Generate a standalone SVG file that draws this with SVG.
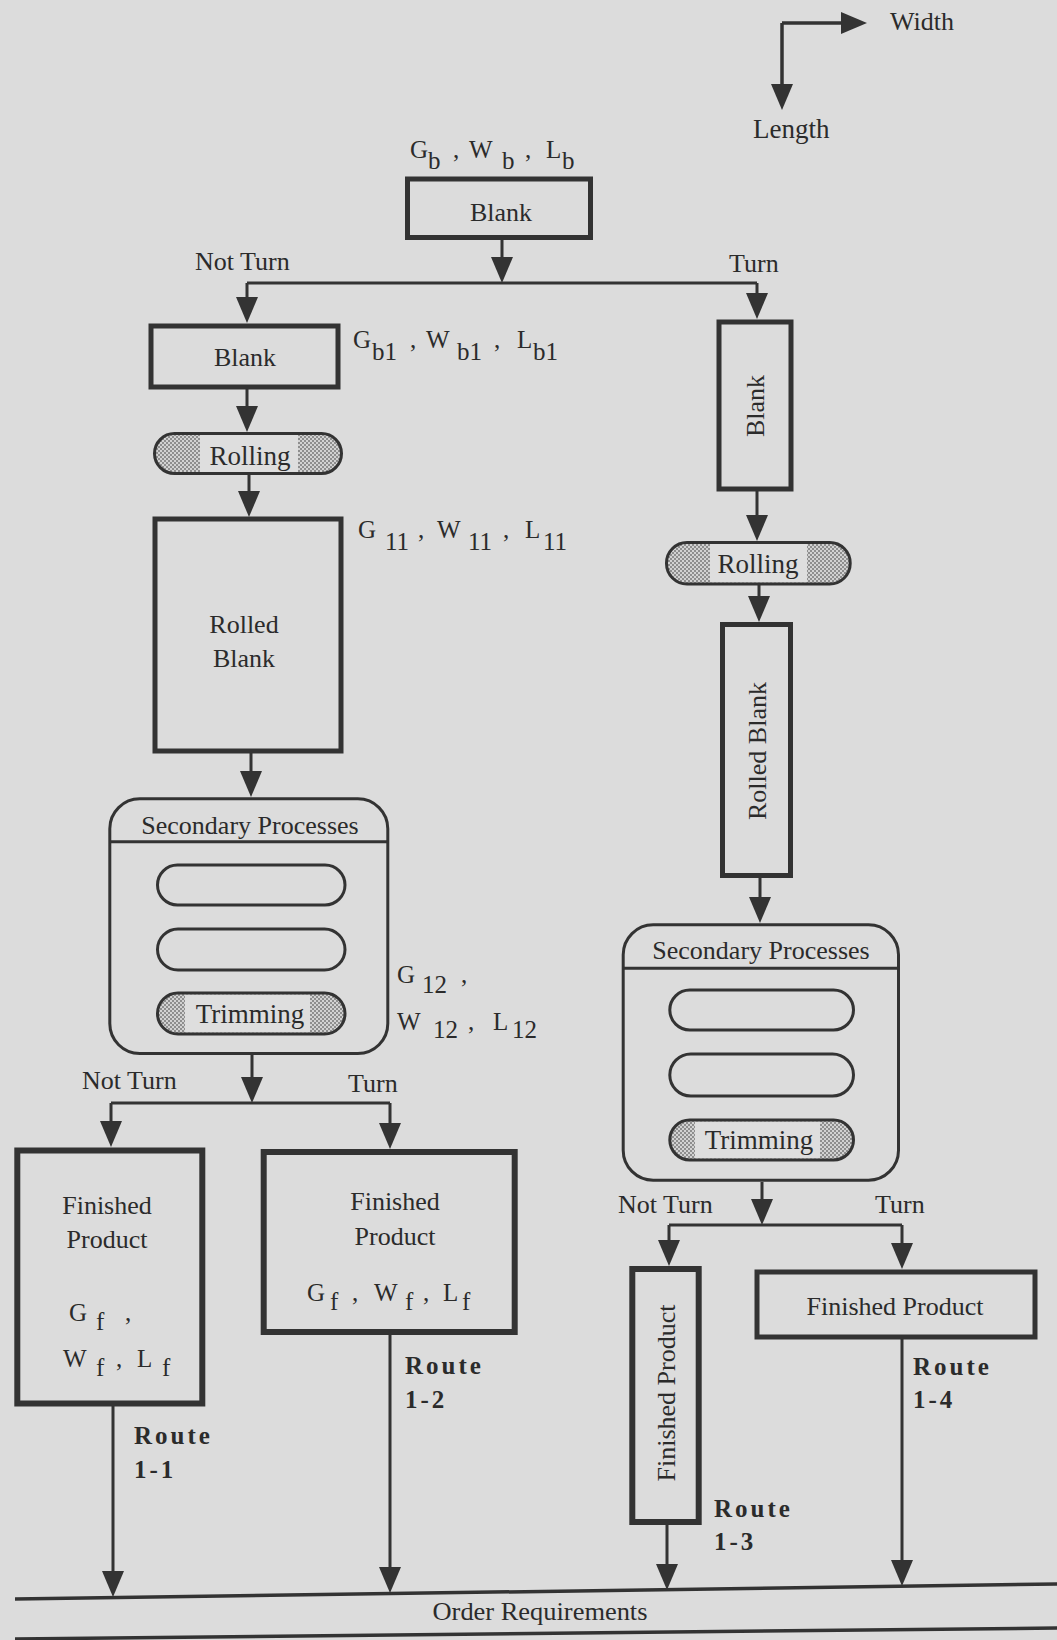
<svg xmlns="http://www.w3.org/2000/svg" width="1057" height="1640" viewBox="0 0 1057 1640">
<style>
.t{font-family:"Liberation Serif","Times New Roman",serif;font-size:26px;fill:#2b2b2b}
.m{text-anchor:middle}
.s{font-size:25px}
.r{font-family:"Liberation Serif","Times New Roman",serif;font-size:25px;font-weight:bold;letter-spacing:3px;fill:#2b2b2b}
.box{fill:none;stroke:#333;stroke-width:5}
.fp{fill:none;stroke:#333;stroke-width:6}
.sp{fill:none;stroke:#333;stroke-width:3}
.pill{fill:none;stroke:#333;stroke-width:3}
.pf{fill:url(#stip);stroke:none}
.lt{fill:#dedede;stroke:none}
.c{fill:none;stroke:#333;stroke-width:3}
.ca{fill:none;stroke:#333;stroke-width:3;marker-end:url(#ah)}
</style>
<defs>
<pattern id="stip" width="4" height="4" patternUnits="userSpaceOnUse">
<rect width="4" height="4" fill="#d2d2d2"/>
<rect width="2" height="2" fill="#8e8e8e"/>
<rect x="2" y="2" width="2" height="2" fill="#8e8e8e"/>
</pattern>
<marker id="ah" markerUnits="userSpaceOnUse" viewBox="0 0 26 22" markerWidth="26" markerHeight="22" refX="16" refY="11" orient="auto">
<path d="M0,0 L26,11 L0,22 z" fill="#333"/>
</marker>
</defs>
<rect width="1057" height="1640" fill="#dcdcdc"/>

<g id="axes">
<path class="ca" style="stroke-width:3.5" d="M782,23 H857"/>
<path class="ca" style="stroke-width:3.5" d="M782,23 V100"/>
<text class="t" x="890" y="30">Width</text>
<text class="t" x="753" y="138" style="font-size:27px">Length</text>
</g>

<g id="connectors">
<path class="ca" d="M502,240 V273"/>
<path class="c" d="M247,283 H757"/>
<path class="ca" d="M247,283 V313"/>
<path class="ca" d="M757,283 V309"/>
<path class="ca" d="M247,389 V422"/>
<path class="ca" d="M249,475 V507"/>
<path class="ca" d="M251,753 V787"/>
<path class="ca" d="M252,1055 V1093"/>
<path class="c" d="M111,1103 H390"/>
<path class="ca" d="M111,1103 V1137"/>
<path class="ca" d="M390,1103 V1139"/>
<path class="ca" d="M113,1406 V1587"/>
<path class="ca" d="M390,1335 V1583"/>
<path class="ca" d="M757,491 V531"/>
<path class="ca" d="M759,585 V612"/>
<path class="ca" d="M760,878 V913"/>
<path class="ca" d="M762,1182 V1215"/>
<path class="c" d="M669,1225 H902"/>
<path class="ca" d="M669,1225 V1256"/>
<path class="ca" d="M902,1225 V1259"/>
<path class="ca" d="M667,1525 V1580"/>
<path class="ca" d="M902,1339 V1576"/>
<text class="t" x="195" y="270">Not Turn</text>
<text class="t" x="729" y="272">Turn</text>
<text class="t" x="82" y="1089">Not Turn</text>
<text class="t" x="348" y="1092">Turn</text>
<text class="t" x="618" y="1213">Not Turn</text>
<text class="t" x="875" y="1213">Turn</text>
</g>

<g id="blank-top">
<rect class="box" x="407.5" y="179" width="183" height="58.5"/>
<text class="t m" x="501" y="221">Blank</text>
<text class="t s"><tspan x="410" y="158">G</tspan><tspan x="428" y="169">b</tspan><tspan x="453" y="158">,</tspan><tspan x="469" y="158">W</tspan><tspan x="502" y="169">b</tspan><tspan x="525" y="158">,</tspan><tspan x="546" y="158">L</tspan><tspan x="562" y="169">b</tspan></text>
</g>

<g id="blank-left">
<rect class="box" x="151" y="326" width="187" height="61"/>
<text class="t m" x="245" y="366">Blank</text>
<text class="t s"><tspan x="353" y="348">G</tspan><tspan x="372" y="360">b1</tspan><tspan x="410" y="348">,</tspan><tspan x="426" y="348">W</tspan><tspan x="457" y="360">b1</tspan><tspan x="494" y="348">,</tspan><tspan x="517" y="348">L</tspan><tspan x="533" y="360">b1</tspan></text>
</g>

<g id="rolling-left">
<rect class="pf" x="154.5" y="433.5" width="187" height="40" rx="20"/>
<rect class="lt" x="200" y="435" width="98" height="37"/>
<rect class="pill" x="154.5" y="433.5" width="187" height="40" rx="20"/>
<text class="t m" x="250" y="465" style="font-size:27px">Rolling</text>
</g>

<g id="rolled-blank-left">
<rect class="box" x="155" y="519" width="186" height="232"/>
<text class="t m" x="244" y="633">Rolled</text>
<text class="t m" x="244" y="667">Blank</text>
<text class="t s"><tspan x="358" y="538">G</tspan><tspan x="385" y="550">11</tspan><tspan x="418" y="538">,</tspan><tspan x="437" y="538">W</tspan><tspan x="468" y="550">11</tspan><tspan x="503" y="538">,</tspan><tspan x="525" y="538">L</tspan><tspan x="543" y="550">11</tspan></text>
</g>

<g id="secondary-left">
<rect class="sp" x="109.8" y="798.8" width="278" height="254.7" rx="30"/>
<path class="sp" d="M109.8,841.7 H387.8"/>
<text class="t m" x="250" y="834">Secondary Processes</text>
<rect class="pill" x="157.5" y="865" width="187.5" height="40" rx="20"/>
<rect class="pill" x="157.5" y="929" width="187.5" height="41" rx="20.5"/>
<rect class="pf" x="157.5" y="993" width="187.5" height="41" rx="20.5"/>
<rect class="lt" x="185" y="994.5" width="125" height="38"/>
<rect class="pill" x="157.5" y="993" width="187.5" height="41" rx="20.5"/>
<text class="t m" x="250" y="1023" style="font-size:27px">Trimming</text>
<text class="t s"><tspan x="397" y="983">G</tspan><tspan x="422" y="993">12</tspan><tspan x="461" y="983">,</tspan><tspan x="397" y="1030">W</tspan><tspan x="433" y="1038">12</tspan><tspan x="468" y="1030">,</tspan><tspan x="493" y="1030">L</tspan><tspan x="512" y="1038">12</tspan></text>
</g>

<g id="finished-1-1">
<rect class="fp" x="17.3" y="1150.5" width="185" height="253"/>
<text class="t m" x="107" y="1214">Finished</text>
<text class="t m" x="107" y="1248">Product</text>
<text class="t s"><tspan x="69" y="1321">G</tspan><tspan x="96" y="1330">f</tspan><tspan x="125" y="1321">,</tspan><tspan x="63" y="1367">W</tspan><tspan x="96" y="1376">f</tspan><tspan x="116" y="1367">,</tspan><tspan x="137" y="1367">L</tspan><tspan x="162" y="1376">f</tspan></text>
<text class="r" x="134" y="1444">Route</text>
<text class="r" x="134" y="1478">1-1</text>
</g>

<g id="finished-1-2">
<rect class="fp" x="263.7" y="1152" width="251" height="180"/>
<text class="t m" x="395" y="1210">Finished</text>
<text class="t m" x="395" y="1245">Product</text>
<text class="t s"><tspan x="307" y="1301">G</tspan><tspan x="330" y="1310">f</tspan><tspan x="352" y="1301">,</tspan><tspan x="374" y="1301">W</tspan><tspan x="405" y="1310">f</tspan><tspan x="423" y="1301">,</tspan><tspan x="443" y="1301">L</tspan><tspan x="462" y="1310">f</tspan></text>
<text class="r" x="405" y="1374">Route</text>
<text class="r" x="405" y="1408">1-2</text>
</g>

<g id="blank-right">
<rect class="box" x="719" y="322" width="72" height="167"/>
<text class="t m" transform="translate(764,406) rotate(-90)">Blank</text>
</g>

<g id="rolling-right">
<rect class="pf" x="666.5" y="542.5" width="183.7" height="41.5" rx="20.5"/>
<rect class="lt" x="710" y="544" width="97" height="38.5"/>
<rect class="pill" x="666.5" y="542.5" width="183.7" height="41.5" rx="20.5"/>
<text class="t m" x="758" y="573" style="font-size:27px">Rolling</text>
</g>

<g id="rolled-blank-right">
<rect class="box" x="722.5" y="624.5" width="68" height="251"/>
<text class="t m" transform="translate(766,751) rotate(-90)">Rolled Blank</text>
</g>

<g id="secondary-right">
<rect class="sp" x="623.2" y="924.8" width="275.3" height="255.4" rx="30"/>
<path class="sp" d="M623.2,968.3 H898.5"/>
<text class="t m" x="761" y="959">Secondary Processes</text>
<rect class="pill" x="669.8" y="990" width="183.7" height="40" rx="20"/>
<rect class="pill" x="669.8" y="1054" width="183.7" height="42" rx="21"/>
<rect class="pf" x="669.8" y="1120" width="183.7" height="40" rx="20"/>
<rect class="lt" x="695" y="1121.5" width="125" height="37"/>
<rect class="pill" x="669.8" y="1120" width="183.7" height="40" rx="20"/>
<text class="t m" x="759" y="1149" style="font-size:27px">Trimming</text>
</g>

<g id="finished-1-3">
<rect class="fp" x="632.3" y="1269" width="66.4" height="253"/>
<text class="t m" transform="translate(675,1393) rotate(-90)">Finished Product</text>
<text class="r" x="714" y="1517">Route</text>
<text class="r" x="714" y="1550">1-3</text>
</g>

<g id="finished-1-4">
<rect class="box" x="757" y="1272" width="278" height="65"/>
<text class="t m" x="895" y="1315">Finished Product</text>
<text class="r" x="913" y="1375">Route</text>
<text class="r" x="913" y="1408">1-4</text>
</g>

<g id="order-requirements">
<path class="c" style="stroke-width:3.5" d="M15,1599 L1057,1584"/>
<path class="c" style="stroke-width:3.5" d="M15,1639 L1057,1628"/>
<text class="t m" x="540" y="1620" textLength="215" lengthAdjust="spacingAndGlyphs">Order Requirements</text>
</g>
</svg>
